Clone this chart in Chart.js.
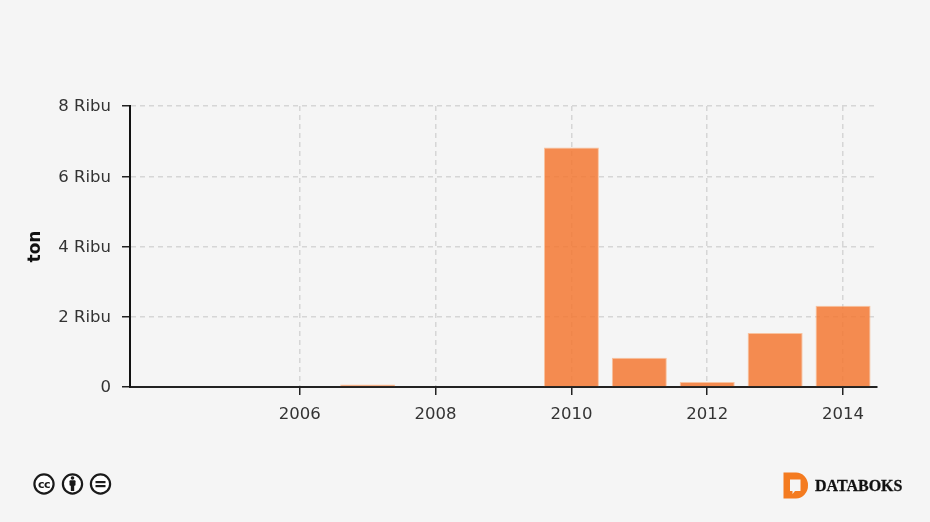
<!DOCTYPE html>
<html>
<head>
<meta charset="utf-8">
<title>Chart</title>
<script src="https://cdn.jsdelivr.net/npm/chart.js@4"></script>
<style>
  html, body { margin: 0; padding: 0; background: #f5f5f5; }
  #wrap { position: relative; width: 930px; height: 522px; overflow: hidden; }
  canvas { position: absolute; left: 0; top: 0; }
  svg { position: absolute; left: 0; top: 0; }
</style>
</head>
<body>
<div id="wrap">
  <canvas id="chart" width="930" height="522"></canvas>
  <svg width="930" height="522" viewBox="0 0 930 522">
    <!-- licence badges -->
    <g fill="none" stroke="#1a1a1a" stroke-width="2.2">
      <circle cx="44" cy="484" r="9.6" fill="#fff"/>
      <circle cx="72.5" cy="484" r="9.6" fill="#fff"/>
      <circle cx="100.5" cy="484" r="9.6" fill="#fff"/>
    </g>
    <text x="44" y="488" text-anchor="middle" font-family="DejaVu Sans" font-weight="bold" font-size="11" letter-spacing="-0.5" fill="#1a1a1a">cc</text>
    <g fill="#1a1a1a">
      <circle cx="72.5" cy="478" r="1.8"/>
      <rect x="69.5" y="480.2" width="6" height="5.5" rx="1"/>
      <rect x="70.8" y="484" width="3.4" height="7"/>
      <rect x="95.5" y="481" width="10" height="2.2"/>
      <rect x="95.5" y="485" width="10" height="2.2"/>
    </g>
    <!-- databoks logo -->
    <path d="M783.5 472.5 H796 A12 12.5 0 0 1 808 485 A12 13 0 0 1 796 498.5 H783.5 Z" fill="#f47b20"/>
    <path d="M790 479.5 H800.5 V491 H795 L792.5 494 V491 H790 Z" fill="#f5f5f5"/>
    <text x="815" y="491" font-family="Liberation Serif" font-weight="bold" font-size="16" stroke="#111" stroke-width="0.3" fill="#111">DATABOKS</text>
  </svg>
</div>
<script>
// Values
const years = ['2004', '2005', '2006', '2007', '2008', '2009', '2010', '2011', '2012', '2013', '2014'];
const tons = [0, 0, 0, 70, 0, 0, 6820, 830, 140, 1540, 2310];
const xTickLabels = ['2006', '2008', '2010', '2012', '2014'];
const yTickValues = [0, 2000, 4000, 6000, 8000];
const yTickLabels = ['0', '2 Ribu', '4 Ribu', '6 Ribu', '8 Ribu'];

const tickFont = { family: 'DejaVu Sans', size: 16.5 };
const gridColor = '#d6d6d6';

function isLabelled(index) {
  return xTickLabels.includes(years[index]);
}

new Chart(document.getElementById('chart'), {
  type: 'bar',
  data: {
    labels: years,
    datasets: [{
      data: tons,
      backgroundColor: 'rgba(243, 120, 50, 0.85)',
      borderColor: 'rgba(250, 190, 150, 0.9)',
      borderWidth: 1,
      barPercentage: 0.81,
      categoryPercentage: 1
    }]
  },
  options: {
    responsive: false,
    animation: false,
    layout: { padding: { top: 106, right: 53, left: 0, bottom: 0 } },
    plugins: { legend: { display: false }, tooltip: { enabled: false } },
    scales: {
      x: {
        afterFit: scale => { scale.height = 135; },
        grid: {
          offset: false,
          color: ctx => isLabelled(ctx.index) ? gridColor : 'transparent',
          tickColor: ctx => isLabelled(ctx.index) ? '#222' : 'transparent',
          tickLength: 8,
          lineWidth: 1.5
        },
        border: { color: '#222', width: 2, dash: [5, 4] },
        ticks: {
          autoSkip: false,
          maxRotation: 0,
          padding: 10,
          color: '#333',
          font: tickFont,
          callback: function (value, index) {
            return isLabelled(index) ? years[index] : '';
          }
        }
      },
      y: {
        min: 0,
        max: 8000,
        afterFit: scale => { scale.width = 130; },
        afterBuildTicks: scale => { scale.ticks = yTickValues.map(v => ({ value: v })); },
        title: {
          display: true,
          text: 'ton',
          color: '#111',
          padding: { top: 25, bottom: 0 },
          font: { family: 'DejaVu Sans', size: 17, weight: 'bold' }
        },
        grid: { color: gridColor, tickColor: '#222', tickLength: 8, lineWidth: 1.5 },
        border: { color: '#111', width: 2, dash: [5, 4] },
        ticks: {
          padding: 11,
          labelOffset: 1,
          color: '#333',
          font: tickFont,
          callback: value => yTickLabels[yTickValues.indexOf(value)]
        }
      }
    }
  }
});
</script>
</body>
</html>
